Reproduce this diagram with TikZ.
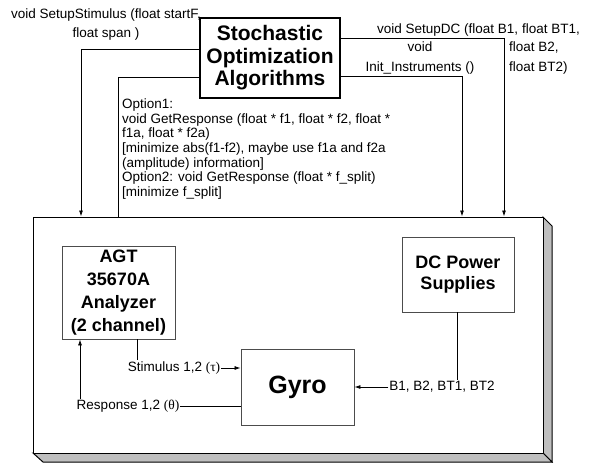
\documentclass[tikz,border=0pt]{standalone}
\usepackage{fontspec}
\setmainfont{Liberation Sans}
\newfontfamily\greekfont{Liberation Serif}
\usetikzlibrary{arrows.meta,positioning}

\begin{document}
\begin{tikzpicture}[x=1pt,y=-1pt,
  blk/.style={draw=black!70,line width=0.9pt,fill=white,align=center,
    font=\bfseries\fontsize{18}{23}\selectfont},
  txt/.style={inner sep=1pt,font=\fontsize{13.5}{14.6}\selectfont},
  wire/.style={line width=0.8pt},
  arr/.style={-{Latex[length=6pt,width=4pt]}}]
  \useasboundingbox (0,0) rectangle (592,463);
  % instrument rack, bevelled on the right and at the bottom
  \filldraw[fill=black!25,line width=1pt] (543,217) -- (552,226) -- (552,462) -- (543,453) -- cycle;
  \filldraw[fill=black!25,line width=1pt] (33,453) -- (43,462) -- (552,462) -- (543,453) -- cycle;
  \node[draw,fill=white,line width=1pt,inner sep=0pt,minimum width=510pt,minimum height=236pt] (rack) at (288,335) {};
  % calls made by the optimizer
  \node[txt,align=center,font=\fontsize{13.5}{19}\selectfont] (stimcall) at (106,24.5)
    {void SetupStimulus (float startF,\\float span )};
  \node[txt,anchor=west] (dccall) at (376,30) {void SetupDC (float B1, float BT1,};
  \node[txt,anchor=west,align=left,font=\fontsize{13.5}{20}\selectfont] (dcargs) at (508,58.5)
    {float B2,\\float BT2)};
  \node[txt,align=center,font=\fontsize{13.5}{20}\selectfont] (initcall) at (420,58)
    {void\\Init\_Instruments ()};
  \node[txt,anchor=west,align=left] (respcall) at (121,149)
    {Option1:\\void GetResponse (float * f1, float * f2, float *\\f1a, float * f2a)\\
     {[}minimize abs(f1-f2), maybe use f1a and f2a\\(amplitude) information{]}\\
     Option2: void GetResponse (float * f\_split)\\{[}minimize f\_split{]}};
  \node[draw,line width=1.8pt,fill=white,minimum width=140pt,minimum height=80pt,align=center,
    font=\bfseries\fontsize{21}{22.5}\selectfont] (algo) at (270,58)
    {Stochastic\\Optimization\\Algorithms};
  % instruments
  \node[blk,minimum width=113pt,minimum height=93pt] (agt) at (118.5,292.5)
    {AGT\\35670A\\Analyzer\\(2 channel)};
  \node[blk,minimum width=112pt,minimum height=75pt,font=\bfseries\fontsize{18}{21}\selectfont] (dc) at (458,274.5)
    {DC Power\\Supplies};
  \node[blk,minimum width=113pt,minimum height=76pt,font=\bfseries\fontsize{25}{30}\selectfont] (gyro) at (297.5,387) {Gyro};
  \node[txt] (stim) at (174,368) {Stimulus 1,2 {\greekfont(τ)}};
  \node[txt] (resp) at (128,406) {Response 1,2 {\greekfont(θ)}};
  \node[txt] (bias) at (442,387) {B1, B2, BT1, BT2};
  % optimizer <-> rack
  \draw[wire,arr] (algo.west |- 0,49) -| (rack.north -| 81,0);
  \draw[wire] (algo.west |- 0,77) -| (rack.north -| 118,0);
  \draw[wire,arr] (algo.east |- 0,38) -| (rack.north -| 504,0);
  \draw[wire,arr] (algo.east |- 0,76) -| (rack.north -| 462,0);
  % signals inside the rack
  \draw[wire] (agt.south -| 137,0) -- (stim.north -| 137,0);
  \draw[wire,arr] (stim.east) -- (stim.east -| gyro.west);
  \draw[wire] (gyro.west |- resp.east) -- (resp.east);
  \draw[wire,arr] (resp.north -| 80,0) -- (agt.south -| 80,0);
  \draw[wire] (dc.south -| 457,0) -- (bias.north -| 457,0);
  \draw[wire,arr] (bias.west) -- (bias.west -| gyro.east);
\end{tikzpicture}
\end{document}
